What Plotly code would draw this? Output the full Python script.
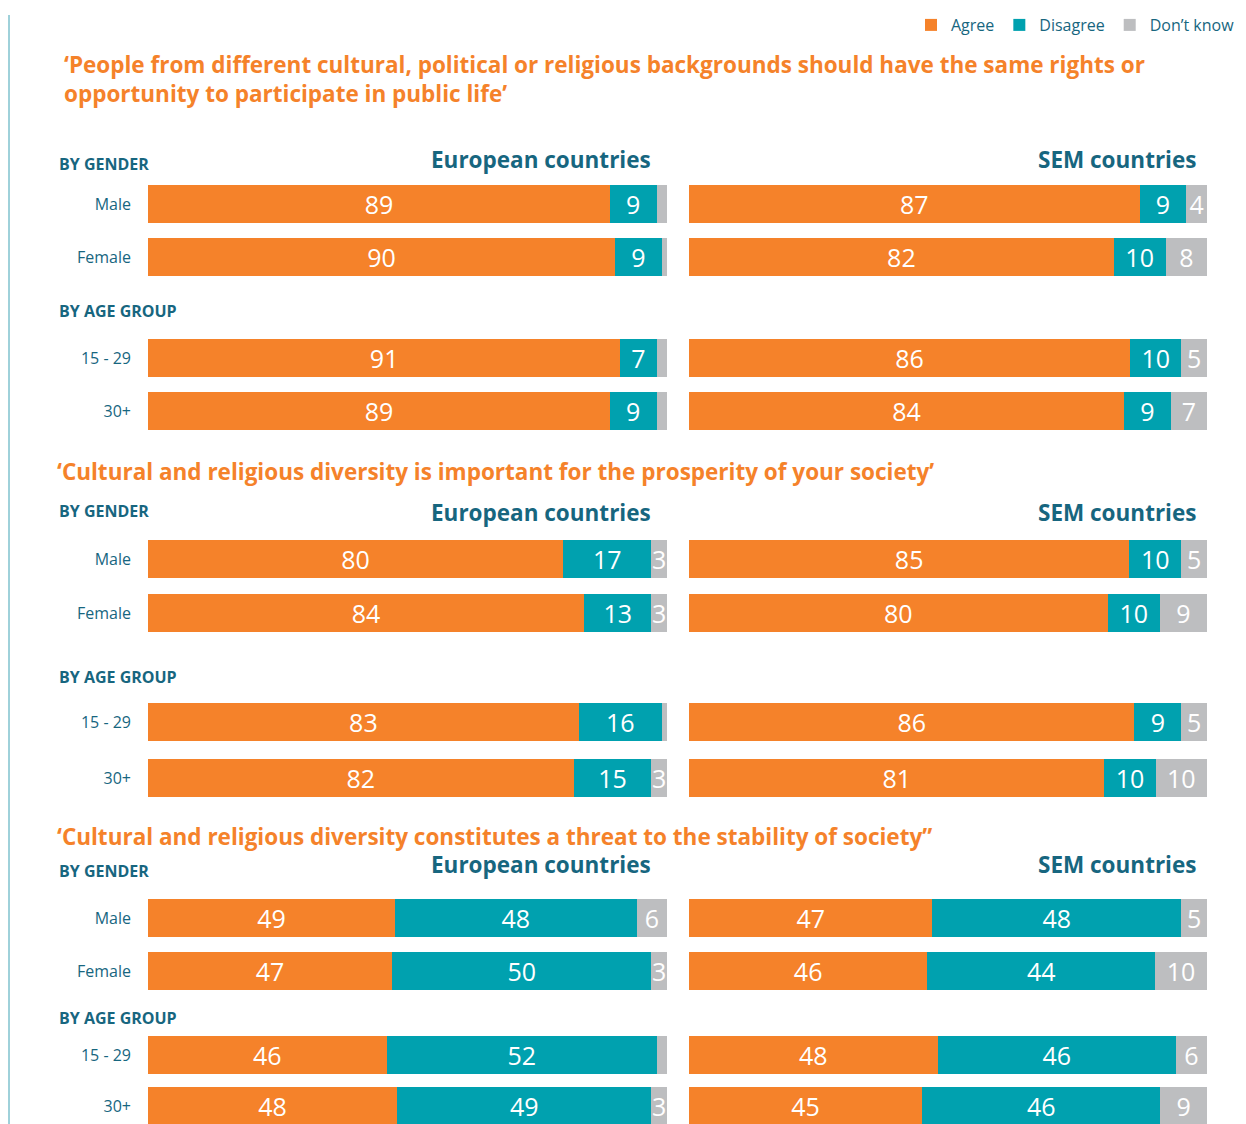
import plotly.graph_objects as go

PAGE_W, PAGE_H = 1246, 1124
OFF = 8  # page body margin
W, H = PAGE_W - OFF, PAGE_H - OFF

# ---------------- data ----------------
series_names = ["Agree", "Disagree", "Don’t know"]
gender_cats = ["Male", "Female"]
age_cats = ["15 - 29", "30+"]

question_titles = [
    "‘People from different cultural, political or religious backgrounds should have the same rights or<br>opportunity to participate in public life’",
    "‘Cultural and religious diversity is important for the prosperity of your society’",
    "‘Cultural and religious diversity constitutes a threat to the stability of society”",
]
region_titles = ["European countries", "SEM countries"]
group_titles = ["BY GENDER", "BY AGE GROUP"]

# order of rows: Male, Female, 15 - 29, 30+
q1_eur_agree = [89, 90, 91, 89]
q1_eur_disagree = [9, 9, 7, 9]
q1_eur_dontknow = [2, 1, 2, 2]
q1_sem_agree = [87, 82, 86, 84]
q1_sem_disagree = [9, 10, 10, 9]
q1_sem_dontknow = [4, 8, 5, 7]

q2_eur_agree = [80, 84, 83, 82]
q2_eur_disagree = [17, 13, 16, 15]
q2_eur_dontknow = [3, 3, 1, 3]
q2_sem_agree = [85, 80, 86, 81]
q2_sem_disagree = [10, 10, 9, 10]
q2_sem_dontknow = [5, 9, 5, 10]

q3_eur_agree = [49, 47, 46, 48]
q3_eur_disagree = [48, 50, 52, 49]
q3_eur_dontknow = [6, 3, 2, 3]
q3_sem_agree = [47, 46, 48, 45]
q3_sem_disagree = [48, 44, 46, 46]
q3_sem_dontknow = [5, 10, 6, 9]

data = [
    [[q1_eur_agree, q1_eur_disagree, q1_eur_dontknow],
     [q1_sem_agree, q1_sem_disagree, q1_sem_dontknow]],
    [[q2_eur_agree, q2_eur_disagree, q2_eur_dontknow],
     [q2_sem_agree, q2_sem_disagree, q2_sem_dontknow]],
    [[q3_eur_agree, q3_eur_disagree, q3_eur_dontknow],
     [q3_sem_agree, q3_sem_disagree, q3_sem_dontknow]],
]

# ---------------- style / layout (page pixel positions) ----------------
colors = ["#F5822A", "#00A1AF", "#BDBEC0"]
ORANGE = "#F5822A"
TEAL_TXT = "#17667F"
FONT = "Open Sans"

x_domains_px = [(148, 667), (689, 1207)]
row_centers = [
    [(204, 257), (358, 411)],
    [(559, 613), (722, 778)],
    [(918, 971), (1055, 1106)],
]
BAR_H = 38
title_pos = [(62, 79), (55, 472), (55, 836)]
region_title_y = [159, 513, 865]
group_title_y = [(164, 311), (511, 677), (871, 1018)]


def px_x(x):
    return (x - OFF) / W


def px_y(y):
    return 1 - (y - OFF) / H


fig = go.Figure()
layout_axes = {}
ax = 0
for p in range(3):
    for g in range(2):
        cats = gender_cats if g == 0 else age_cats
        c1, c2 = row_centers[p][g]
        sp = c2 - c1
        top = c1 - sp / 2
        bot = c2 + sp / 2
        yr0 = 1.5
        cut = False
        if bot > PAGE_H:
            yr0 = 1.5 - (bot - PAGE_H) / sp
            bot = PAGE_H
            cut = True
        for r in range(2):
            ax += 1
            xn = "x" if ax == 1 else f"x{ax}"
            yn = "y" if ax == 1 else f"y{ax}"
            sl = slice(2 * g, 2 * g + 2)
            for s in range(3):
                vals = data[p][r][s][sl]
                fig.add_trace(go.Bar(
                    x=vals, y=cats, orientation="h",
                    name=series_names[s],
                    marker=dict(color=colors[s], line=dict(width=0)),
                    width=BAR_H / sp,
                    text=[str(v) if v >= 3 else "" for v in vals],
                    textposition="inside", insidetextanchor="middle",
                    textangle=0, constraintext="none",
                    textfont=dict(color="white", size=25, family=FONT),
                    cliponaxis=not cut,
                    showlegend=(ax == 1), legendgroup=series_names[s],
                    hoverinfo="skip",
                    xaxis=xn, yaxis=yn,
                ))
            key = "" if ax == 1 else str(ax)
            layout_axes["xaxis" + key] = dict(
                domain=[px_x(x_domains_px[r][0]), px_x(x_domains_px[r][1])],
                range=[0, 100], showgrid=False, zeroline=False,
                showticklabels=False, ticks="", showline=False,
                anchor=yn, fixedrange=True,
            )
            layout_axes["yaxis" + key] = dict(
                domain=[max(0, px_y(bot)), px_y(top)],
                type="category", categoryorder="array", categoryarray=cats,
                range=[yr0, -0.5], showgrid=False, zeroline=False,
                showline=False, ticks="", showticklabels=(r == 0),
                ticklabelstandoff=16,
                tickfont=dict(size=16, color=TEAL_TXT, family=FONT),
                anchor=xn, fixedrange=True,
            )

annotations = []
for p in range(3):
    annotations.append(dict(
        text=f"<b>{question_titles[p]}</b>", x=px_x(title_pos[p][0]), y=px_y(title_pos[p][1]),
        xref="paper", yref="paper", xanchor="left", yanchor="middle", align="left",
        showarrow=False, font=dict(size=22.5, color=ORANGE, family=FONT),
    ))
    for r, xr in enumerate([653, 1198]):
        annotations.append(dict(
            text=f"<b>{region_titles[r]}</b>", x=px_x(xr), y=px_y(region_title_y[p]),
            xref="paper", yref="paper", xanchor="right", yanchor="middle",
            showarrow=False, font=dict(size=22.5, color=TEAL_TXT, family=FONT),
        ))
    for g in range(2):
        annotations.append(dict(
            text=f"<b>{group_titles[g]}</b>", x=px_x(57), y=px_y(group_title_y[p][g]),
            xref="paper", yref="paper", xanchor="left", yanchor="middle",
            showarrow=False, font=dict(size=16, color=TEAL_TXT, family=FONT),
        ))

fig.update_layout(
    width=W, height=H,
    margin=dict(l=0, r=0, t=0, b=0),
    paper_bgcolor="white", plot_bgcolor="white",
    barmode="stack", barnorm="percent",
    annotations=annotations,
    shapes=[dict(type="line", xref="paper", yref="paper",
                 x0=px_x(9), x1=px_x(9), y0=px_y(15), y1=0,
                 line=dict(color="#3FA3B5", width=1))],
    legend=dict(orientation="h", x=px_x(1240), xanchor="right",
                y=1, yanchor="top",
                font=dict(size=16, color=TEAL_TXT, family=FONT),
                itemclick=False, itemdoubleclick=False, traceorder="normal"),
    font=dict(family=FONT),
    **layout_axes,
)

fig.write_html("out.html")
